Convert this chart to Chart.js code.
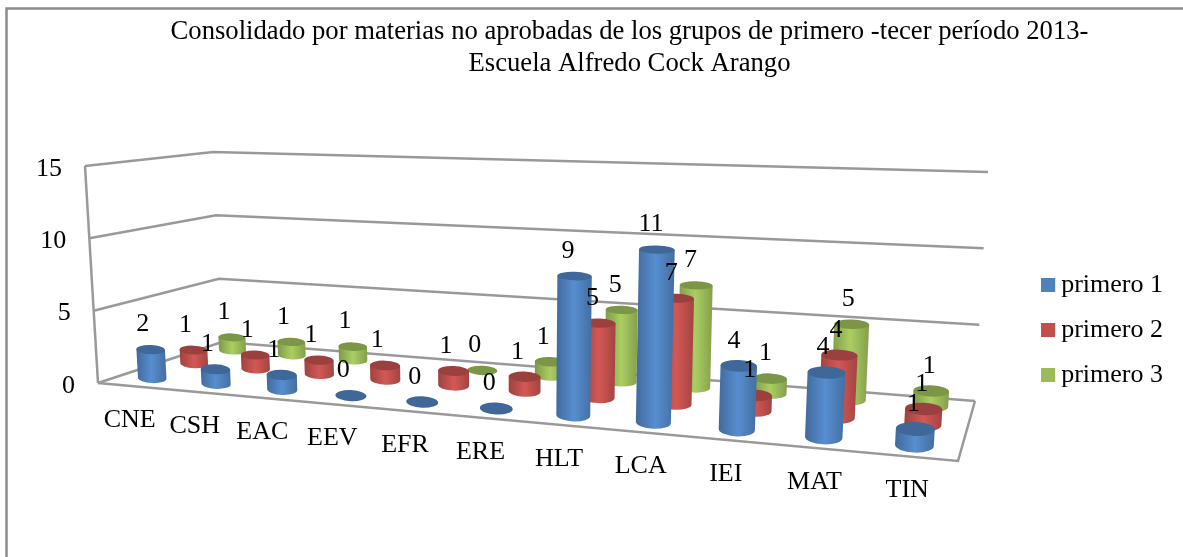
<!DOCTYPE html>
<html><head><meta charset="utf-8">
<style>html,body{margin:0;padding:0;background:#fff}#w{width:1183px;height:557px}</style>
<script src="https://cdn.jsdelivr.net/npm/chart.js@4/dist/chart.umd.min.js"></script>
</head><body><div id="w"><canvas id="c" width="1183" height="557"></canvas></div>
<script>
const titleLines = ['Consolidado por materias no aprobadas de los grupos de primero -tecer período 2013-','Escuela Alfredo Cock Arango'];
const categories = ['CNE','CSH','EAC','EEV','EFR','ERE','HLT','LCA','IEI','MAT','TIN'];
const seriesNames = ['primero 1','primero 2','primero 3'];
const primero1 = [2,1,1,0,0,0,9,11,4,4,1];
const primero2 = [1,1,1,1,1,1,5,7,1,4,1];
const primero3 = [1,1,1,null,0,1,5,7,1,5,1];
const seriesColors = ['#4F81BD','#C0504D','#9BBB59'];
const yMax = 15, yStep = 5;

/* view of the 3-D box: corners as [front-left, front-right, back-right, back-left] */
const floorQuad = [[98,383],[958,461],[975,401],[222,342]];
const topQuad   = [[85,166],[973,207],[988,172],[213,152]];
const FONT = '"Liberation Serif"';
const GRID = '#999999';

function homography(q){
  const [[x0,y0],[x1,y1],[x2,y2],[x3,y3]] = q;
  const dx1=x1-x2,dx2=x3-x2,sx=x0-x1+x2-x3,dy1=y1-y2,dy2=y3-y2,sy=y0-y1+y2-y3;
  const det=dx1*dy2-dx2*dy1;
  const g=(sx*dy2-dx2*sy)/det,h=(dx1*sy-sx*dy1)/det;
  const a=x1-x0+g*x1,b=x3-x0+h*x3,c=x0,d=y1-y0+g*y1,e=y3-y0+h*y3,f=y0;
  return (u,w)=>{const k=g*u+h*w+1;return [(a*u+b*w+c)/k,(d*u+e*w+f)/k];};
}
const floorH=homography(floorQuad);
const lift=topQuad.map((q,i)=>[q[0]-floorQuad[i][0],q[1]-floorQuad[i][1]]);
const mix=(a,b,k)=>a+(b-a)*k;
function project(u0,w,t){
  const u=u0/(1+0.03*(1-u0));
  const p=floorH(u,w);
  const f=floorH(u,0),b=floorH(u,1);
  const sf=(f[0]-floorQuad[0][0])/(floorQuad[1][0]-floorQuad[0][0]);
  const sb=(b[0]-floorQuad[3][0])/(floorQuad[2][0]-floorQuad[3][0]);
  const k=Math.abs(b[1]-f[1])>1e-6?(p[1]-f[1])/(b[1]-f[1]):w;
  const lx=mix(mix(lift[0][0],lift[1][0],sf),mix(lift[3][0],lift[2][0],sb),k);
  const ly=mix(mix(lift[0][1],lift[1][1],sf),mix(lift[3][1],lift[2][1],sb),k);
  return [p[0]+lx*t,p[1]+ly*t];
}
function shade(hex,k){
  const n=parseInt(hex.slice(1),16);
  const c=[n>>16,(n>>8)&255,n&255].map(v=>Math.min(255,Math.round(v*k)));
  return `rgb(${c[0]},${c[1]},${c[2]})`;
}
const RU=0.0195, RW=0.11;
function disc(u,w,t){
  const c=project(u,w,t),l=project(u-RU,w,t),r=project(u+RU,w,t),f=project(u,w-RW,t),b=project(u,w+RW,t);
  return {x:c[0],y:c[1],rx:(r[0]-l[0])/2*0.8+3.5,ry:Math.abs(f[1]-b[1])/2,rot:Math.atan2(r[1]-l[1],r[0]-l[0])*0.5};
}
function drawCylinder(ctx,u,w,t,color){
  const B=disc(u,w,0),T=disc(u,w,t);
  const dark=shade(color,0.8);
  if(t>0){
    const lx=Math.min(B.x-B.rx,T.x-T.rx),rx=Math.max(B.x+B.rx,T.x+T.rx);
    const g=ctx.createLinearGradient(lx,0,rx,0);
    g.addColorStop(0,shade(color,0.82));
    g.addColorStop(0.5,shade(color,1.1));
    g.addColorStop(1,shade(color,0.85));
    ctx.beginPath();
    ctx.ellipse(B.x,B.y,B.rx,B.ry,B.rot,Math.PI,0,true);
    ctx.lineTo(T.x+T.rx*Math.cos(T.rot),T.y+T.rx*Math.sin(T.rot));
    ctx.lineTo(T.x-T.rx*Math.cos(T.rot),T.y-T.rx*Math.sin(T.rot));
    ctx.closePath();
    ctx.fillStyle=g;ctx.fill();
  }
  ctx.beginPath();
  ctx.ellipse(T.x,T.y,T.rx,T.ry,T.rot,0,Math.PI*2);
  ctx.fillStyle=dark;ctx.fill();
}
function coords(chart,el,di){
  const a=chart.chartArea;
  const zs=chart.scales.z;
  return {
    u:(el.x-a.left)/(a.right-a.left),
    w:(zs.getPixelForValue(di)-zs.left)/(zs.right-zs.left),
    t:(a.bottom-el.y)/(a.bottom-a.top)
  };
}
const box3d={
  id:'box3d',
  beforeDatasetsDraw(chart){
    const ctx=chart.ctx,a=chart.chartArea,ys=chart.scales.y,xs=chart.scales.x;
    ctx.save();
    ctx.strokeStyle='#8c8c8c';ctx.lineWidth=2.5;
    ctx.beginPath();ctx.moveTo(1183,8.5);ctx.lineTo(6.5,8.5);ctx.lineTo(6.5,557);ctx.stroke();
    ctx.strokeStyle=GRID;ctx.lineWidth=2.5;ctx.lineJoin='miter';
    ys.ticks.forEach(tk=>{
      const t=(a.bottom-ys.getPixelForValue(tk.value))/(a.bottom-a.top);
      const p=[project(0,0,t),project(0,1,t),project(1,1,t)];
      ctx.beginPath();ctx.moveTo(...p[0]);ctx.lineTo(...p[1]);ctx.lineTo(...p[2]);ctx.stroke();
      ctx.fillStyle='#000';ctx.font='26px '+FONT;ctx.textAlign='right';ctx.textBaseline='middle';
      ctx.fillText(String(tk.value),p[0][0]-23,p[0][1]+3);
    });
    ctx.beginPath();
    [[0,0],[1,0],[1,1]].forEach((c,i)=>{const p=project(c[0],c[1],0);i?ctx.lineTo(...p):ctx.moveTo(...p);});
    ctx.stroke();
    ctx.beginPath();ctx.moveTo(...project(0,0,0));ctx.lineTo(...project(0,0,1));ctx.stroke();
    ctx.fillStyle='#000';ctx.font='26px '+FONT;ctx.textAlign='center';ctx.textBaseline='middle';
    categories.forEach((lab,i)=>{
      const u=(xs.getPixelForValue(i)-a.left)/(a.right-a.left);
      const p=project(u,0,0);
      ctx.fillText(lab,p[0]+4*u*(1-u)-3*u,p[1]+34);
    });
    ctx.restore();
  },
  beforeDatasetDraw(chart,args){
    const meta=args.meta,ctx=chart.ctx,ds=chart.data.datasets[args.index];
    ctx.save();
    meta.data.forEach((el,i)=>{
      if(ds.data[i]===null) return;
      const c=coords(chart,el,args.index);
      drawCylinder(ctx,c.u,c.w,c.t,ds.backgroundColor);
    });
    ctx.restore();
    return false;
  },
  afterDraw(chart){
    const ctx=chart.ctx;
    ctx.save();
    ctx.fillStyle='#000';ctx.font='26px '+FONT;ctx.textAlign='center';ctx.textBaseline='middle';
    chart.data.datasets.forEach((ds,di)=>{
      chart.getDatasetMeta(di).data.forEach((el,i)=>{
        if(ds.data[i]===null) return;
        const c=coords(chart,el,di),p=project(c.u,c.w,c.t);
        ctx.fillText(String(ds.data[i]),p[0]-8+7*c.u*c.u*c.u,p[1]-25);
      });
    });
    const lg=chart.legend;
    lg.legendHitBoxes.forEach((h,i)=>{
      ctx.fillStyle=seriesColors[i];
      ctx.fillRect(h.left,h.top+(h.height-14)/2,14,14);
    });
    ctx.restore();
  }
};
new Chart(document.getElementById('c'),{
  type:'bar',
  data:{labels:categories,datasets:[
    {label:seriesNames[0],data:primero1,backgroundColor:seriesColors[0]},
    {label:seriesNames[1],data:primero2,backgroundColor:seriesColors[1]},
    {label:seriesNames[2],data:primero3,backgroundColor:seriesColors[2]}
  ]},
  plugins:[box3d],
  options:{
    responsive:false,animation:false,
    layout:{padding:{left:86,right:10,top:0,bottom:0}},
    datasets:{bar:{grouped:false}},
    scales:{
      x:{type:'category',display:false,offset:true},
      z:{type:'category',axis:'x',labels:seriesNames,display:false,offset:true},
      y:{type:'linear',min:0,max:yMax,display:false,ticks:{stepSize:yStep}}
    },
    plugins:{
      tooltip:{enabled:false},
      title:{display:true,text:titleLines,color:'#000',font:{family:FONT,size:26.67,weight:'normal',lineHeight:1.2},padding:{top:16,bottom:23}},
      legend:{position:'right',fullSize:false,labels:{color:'#000',boxWidth:7,boxHeight:14,padding:19,font:{family:FONT,size:26}}}
    }
  }
});
</script></body></html>
